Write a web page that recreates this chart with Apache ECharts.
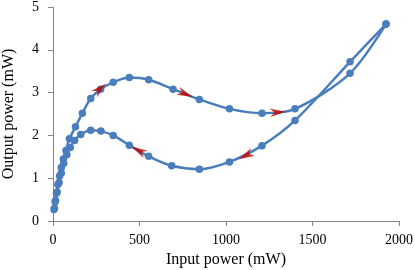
<!DOCTYPE html>
<html>
<head>
<meta charset="utf-8">
<script src="https://cdn.jsdelivr.net/npm/echarts@6/dist/echarts.min.js"></script>
<style>html,body{margin:0;padding:0;background:#fff;}#c{width:415px;height:270px;}</style>
</head>
<body>
<div id="c"></div>
<script>
// Increasing branch (input power up)
var upX = [6, 12, 20, 28, 38, 48, 60, 75, 95, 130, 170, 218, 275, 348, 441, 553, 694, 846, 1020, 1208, 1399, 1717, 1925];
var upY = [0.27, 0.45, 0.65, 0.85, 1.05, 1.25, 1.45, 1.65, 1.92, 2.2, 2.52, 2.86, 3.08, 3.24, 3.35, 3.3, 3.08, 2.84, 2.62, 2.52, 2.62, 3.45, 4.6];
// Decreasing branch (input power down)
var downX = [1925, 1717, 1399, 1208, 1020, 846, 686, 553, 441, 348, 277, 218, 160, 125, 100, 80, 62, 48, 35, 24, 15, 8];
var downY = [4.6, 3.72, 2.35, 1.76, 1.38, 1.21, 1.29, 1.51, 1.77, 2.0, 2.1, 2.12, 2.02, 1.88, 1.72, 1.55, 1.35, 1.12, 0.9, 0.68, 0.48, 0.3];
// Direction arrows (position in data units, heading in degrees counter-clockwise from +x)
var arrowX = [272, 765, 1300, 1115, 495];
var arrowY = [3.09, 2.97, 2.54, 1.53, 1.65];
var arrowHeading = [42, -22, 4, 207, 150];
var xTicks = [0, 500, 1000, 1500, 2000];
var yTicks = [0, 1, 2, 3, 4, 5];

function pairs(xs, ys) { return xs.map(function (x, i) { return [x, ys[i]]; }); }
var arrows = arrowX.map(function (x, i) {
  return { value: [x, arrowY[i]], symbolRotate: arrowHeading[i] };
});

var font = '"Liberation Serif", "Times New Roman", serif';
var axisColor = '#868686';
var chart = echarts.init(document.getElementById('c'), null, { renderer: 'canvas' });
chart.setOption({
  animation: false,
  backgroundColor: '#ffffff',
  grid: { left: 53, right: 16, top: 7, bottom: 49, containLabel: false, outerBoundsMode: 'none' },
  xAxis: {
    type: 'value', min: xTicks[0], max: xTicks[xTicks.length - 1], interval: 500,
    name: 'Input power (mW)', nameLocation: 'middle', nameGap: 29,
    nameTextStyle: { fontFamily: font, fontSize: 16, color: '#000' },
    axisLine: { show: true, lineStyle: { color: axisColor, width: 1 } },
    axisTick: { show: true, length: 5, lineStyle: { color: axisColor } },
    axisLabel: { fontFamily: font, fontSize: 14, color: '#000', margin: 12,
      formatter: function (v) { return String(v); } },
    splitLine: { show: false }
  },
  yAxis: {
    type: 'value', min: yTicks[0], max: yTicks[yTicks.length - 1], interval: 1,
    name: 'Output power (mW)', nameLocation: 'middle', nameGap: 36, nameRotate: 90,
    nameTextStyle: { fontFamily: font, fontSize: 16, color: '#000' },
    axisLine: { show: true, lineStyle: { color: axisColor, width: 1 } },
    axisTick: { show: true, length: 5, lineStyle: { color: axisColor } },
    axisLabel: { fontFamily: font, fontSize: 14, color: '#000', margin: 14,
      formatter: function (v) { return String(v); } },
    splitLine: { show: false }
  },
  series: [
    {
      type: 'line', data: pairs(upX, upY), smooth: 0.3,
      symbol: 'circle', symbolSize: 7.5,
      lineStyle: { color: '#4A7EBB', width: 2.5 },
      itemStyle: { color: '#4A7EBB' }, z: 2
    },
    {
      type: 'line', data: pairs(downX, downY), smooth: 0.3,
      symbol: 'circle', symbolSize: 7.5,
      lineStyle: { color: '#4A7EBB', width: 2.5 },
      itemStyle: { color: '#4A7EBB' }, z: 2
    },
    {
      type: 'scatter', data: arrows,
      // arrowhead pointing right (+x), with a deep notch at its back
      symbol: 'path://M14,5 L0,0 L4,5 L0,10 Z', symbolSize: [16, 12],
      symbolKeepAspect: true,
      itemStyle: { color: '#C00000' }, z: 5
    }
  ]
});
</script>
</body>
</html>
